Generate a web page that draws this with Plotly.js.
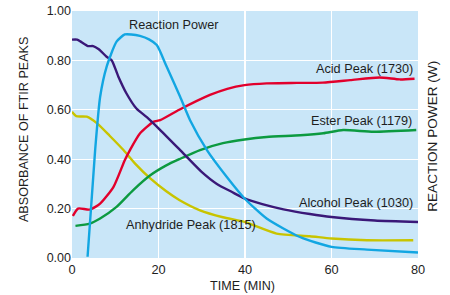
<!DOCTYPE html>
<html>
<head>
<meta charset="utf-8">
<script src="https://cdn.plot.ly/plotly-3.0.1.min.js"></script>
<style>html,body{margin:0;padding:0;background:#fff}#chart{width:450px;height:295px}</style>
</head>
<body>
<div id="chart"></div>
<script>
// Time (min) and absorbance values
const alcoholX = [0, 1.2, 2.1, 3.7, 4.9, 6.2, 8.0, 9.2, 10.7, 12.6, 14.9, 17.3, 20.4, 25.0, 29.9, 33.5, 36.9, 39.9, 44, 48.9, 55, 60, 70, 80];
const alcoholY = [0.884, 0.884, 0.875, 0.858, 0.858, 0.845, 0.815, 0.80, 0.735, 0.666, 0.605, 0.57, 0.518, 0.437, 0.35, 0.30, 0.268, 0.241, 0.218, 0.197, 0.178, 0.166, 0.152, 0.146];

const powerX = [3.6, 5.35, 6.5, 8.0, 10.3, 12.2, 13.7, 15.7, 17.8, 19.6, 21.9, 25.0, 27.3, 31.2, 35.8, 39.9, 45, 52.7, 60, 68.2, 80];
const powerY = [0.005, 0.437, 0.652, 0.774, 0.876, 0.905, 0.905, 0.899, 0.885, 0.862, 0.774, 0.653, 0.558, 0.437, 0.328, 0.241, 0.16, 0.085, 0.045, 0.034, 0.022];

const anhydrideX = [0, 1.0, 3.4, 5.8, 8.7, 11.9, 14.7, 18.1, 21.8, 24.8, 29.6, 34.9, 39.9, 47.3, 55, 60, 68.2, 78.9];
const anhydrideY = [0.592, 0.574, 0.572, 0.545, 0.495, 0.437, 0.38, 0.322, 0.27, 0.235, 0.193, 0.165, 0.146, 0.099, 0.088, 0.079, 0.072, 0.072];

const acidX = [0.2, 1.4, 4.1, 6.5, 9.6, 12.2, 13.4, 15.7, 18.8, 20.4, 24.8, 31.9, 35.9, 39.9, 45, 52, 58, 64.3, 71.1, 75.8, 79.2];
const acidY = [0.17, 0.20, 0.196, 0.22, 0.288, 0.396, 0.437, 0.504, 0.551, 0.558, 0.60, 0.66, 0.685, 0.70, 0.707, 0.709, 0.71, 0.72, 0.731, 0.723, 0.726];

const esterX = [0.8, 4.1, 6.5, 10.3, 14.1, 18.1, 21.8, 24.8, 29.6, 34.9, 39.9, 45, 52.8, 58.1, 62.7, 69.7, 79.6];
const esterY = [0.13, 0.139, 0.16, 0.207, 0.274, 0.335, 0.375, 0.40, 0.437, 0.465, 0.48, 0.49, 0.497, 0.505, 0.518, 0.511, 0.518];

const xTicks = [0, 20, 40, 60, 80];
const yTicks = [0, 0.2, 0.4, 0.6, 0.8, 1.0];
const yTickText = ['0.00', '0.20', '0.40', '0.60', '0.80', '1.00'];

const labels = [
  {text: 'Reaction Power', x: 12.6, y: 0.943, anchor: 'left'},
  {text: 'Acid Peak (1730)', x: 79.3, y: 0.764, anchor: 'right'},
  {text: 'Ester Peak (1179)', x: 79.0, y: 0.555, anchor: 'right'},
  {text: 'Alcohol Peak (1030)', x: 79.3, y: 0.2246, anchor: 'right'},
  {text: 'Anhydride Peak (1815)', x: 43.0, y: 0.1326, anchor: 'right'}
];

const FONT = 'Liberation Sans, Arial, Helvetica, sans-serif';
const TXT = '#1e1e1e';
const lw = 2.4;
function tr(x, y, color, axis) {
  return {x: x, y: y, type: 'scatter', mode: 'lines', yaxis: axis || 'y',
    line: {color: color, width: lw, shape: 'spline', smoothing: 0.6},
    hoverinfo: 'skip', showlegend: false};
}

const data = [
  tr(anhydrideX, anhydrideY, '#c8c400'),
  tr(esterX, esterY, '#0c9a40'),
  tr(acidX, acidY, '#e2002c'),
  tr(alcoholX, alcoholY, '#3a1878'),
  tr(powerX, powerY, '#12a6e2', 'y2')
];

const titles = [
  {text: 'ABSORBANCE OF FTIR PEAKS', x: -0.1387, y: 0.518, angle: -90, size: 12.6},
  {text: 'REACTION POWER (W)', x: 1.0434, y: 0.4907, angle: -90, size: 13.6},
  {text: 'TIME (MIN)', x: 0.4936, y: -0.1134, angle: 0, size: 12.6}
];

const layout = {
  width: 450, height: 295,
  margin: {l: 72, r: 32, t: 11, b: 37, pad: 0},
  paper_bgcolor: '#ffffff',
  plot_bgcolor: '#c9e6f8',
  font: {family: FONT, size: 12, color: TXT},
  xaxis: {
    range: [0, 80], tickvals: xTicks, ticktext: xTicks.map(String),
    showgrid: true, gridcolor: '#ffffff', gridwidth: 1.3, zeroline: false,
    showline: false, ticks: '', tickfont: {size: 12.8, color: TXT}, ticklabelstandoff: 2
  },
  yaxis: {
    range: [0, 1], tickvals: yTicks, ticktext: yTickText,
    showgrid: true, gridcolor: '#ffffff', gridwidth: 1.3, zeroline: false,
    showline: false, ticks: '', tickfont: {size: 12.5, color: TXT}
  },
  yaxis2: {
    range: [0, 1], overlaying: 'y', side: 'right', showgrid: false, zeroline: false,
    showticklabels: false, ticks: '', showline: false
  },
  annotations: labels.map(l => ({
    text: l.text, x: l.x, y: l.y, xref: 'x', yref: 'y', xanchor: l.anchor, yanchor: 'middle',
    showarrow: false, font: {family: FONT, size: 12.7, color: TXT}
  })).concat(titles.map(t => ({
    text: t.text, x: t.x, y: t.y, xref: 'paper', yref: 'paper', xanchor: 'center', yanchor: 'middle',
    textangle: t.angle, showarrow: false, font: {family: FONT, size: t.size, color: TXT}
  })))
};

Plotly.newPlot('chart', data, layout, {displayModeBar: false, staticPlot: true});
</script>
</body>
</html>
